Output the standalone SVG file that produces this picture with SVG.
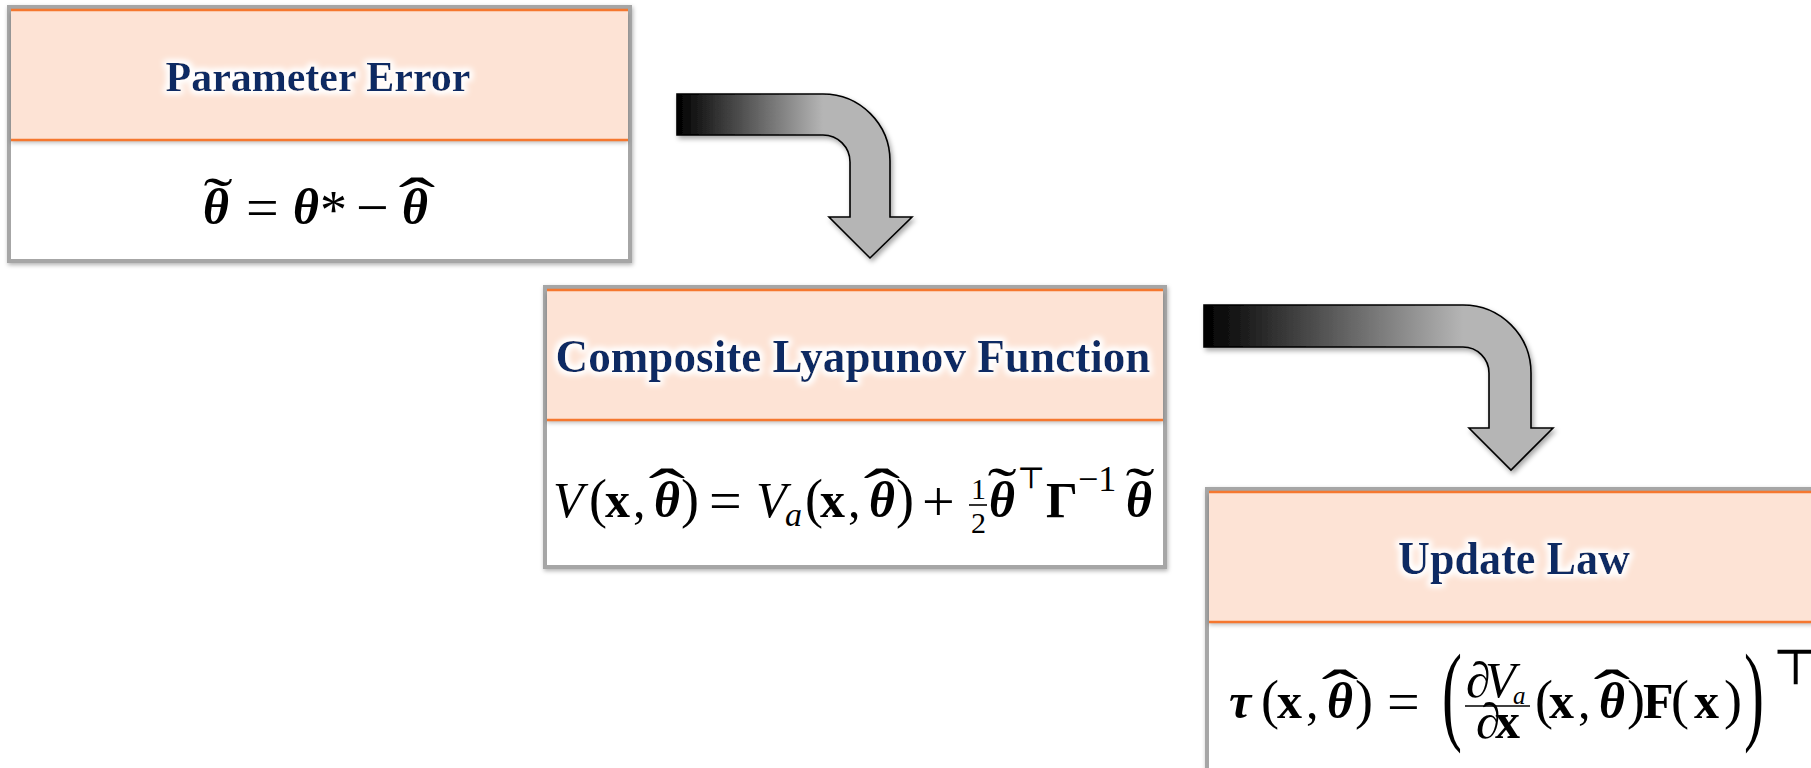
<svg xmlns="http://www.w3.org/2000/svg" width="1811" height="768" viewBox="0 0 1811 768">
<defs>
<style>
.frame{fill:#fff;stroke:#a6a6a6;stroke-width:4}
.head{fill:#fde3d5}
.oline{stroke:#f5772f;stroke-width:2.5}
.title{font-family:"Liberation Serif","DejaVu Serif",serif;font-weight:bold;fill:#0d2a63;text-anchor:middle}
.m{font-family:"Liberation Serif","DejaVu Serif",serif;font-size:50px;fill:#000}
.bi{font-weight:bold;font-style:italic}
.b{font-weight:bold}
.i{font-style:italic}
.op{font-size:58px}
.acc{font-family:"Liberation Serif","DejaVu Serif",serif;font-size:46px;text-anchor:middle;fill:#000}
.arrow{stroke:#000;stroke-width:1.6;stroke-linejoin:miter}
.bar{stroke:#000;stroke-width:1.6}
</style>
<filter id="glow" x="-10%" y="-40%" width="120%" height="180%">
<feMorphology in="SourceAlpha" operator="dilate" radius="2" result="d"/>
<feGaussianBlur in="d" stdDeviation="3" result="b"/>
<feFlood flood-color="#ffffff"/>
<feComposite in2="b" operator="in" result="g"/>
<feMerge><feMergeNode in="g"/><feMergeNode in="g"/><feMergeNode in="SourceGraphic"/></feMerge>
</filter>
<filter id="shadow" x="-5%" y="-5%" width="115%" height="120%">
<feDropShadow dx="1" dy="2" stdDeviation="2" flood-color="#000" flood-opacity="0.3"/>
</filter>
<filter id="hshadow" x="-2%" y="-5%" width="104%" height="115%">
<feDropShadow dx="0" dy="3" stdDeviation="2" flood-color="#000" flood-opacity="0.25"/>
</filter>
<filter id="ashadow" x="-10%" y="-10%" width="125%" height="130%">
<feDropShadow dx="2" dy="3" stdDeviation="2.5" flood-color="#000" flood-opacity="0.35"/>
</filter>
<linearGradient id="g1" gradientUnits="userSpaceOnUse" x1="677" y1="0" x2="823" y2="0">
<stop offset="0" stop-color="#000"/>
<stop offset="1" stop-color="#b5b5b5"/>
</linearGradient>
<linearGradient id="g2" gradientUnits="userSpaceOnUse" x1="1204" y1="0" x2="1463" y2="0">
<stop offset="0" stop-color="#000"/>
<stop offset="1" stop-color="#b5b5b5"/>
</linearGradient>
</defs>
<rect x="0" y="0" width="1811" height="768" fill="#fff"/>

<g id="connectors">
<path class="arrow" fill="url(#g1)" filter="url(#ashadow)" d="M677,94 L823,94 A67,67 0 0 1 890,161 L890,217 L912,217 L870,258 L829,217 L850,217 L850,162 A27,27 0 0 0 823,135 L677,135 Z"/>
<path class="arrow" fill="url(#g2)" filter="url(#ashadow)" d="M1204,305 L1463,305 A68,68 0 0 1 1531,373 L1531,428 L1553,428 L1511,470 L1469,428 L1489,428 L1489,373 A26,26 0 0 0 1463,347 L1204,347 Z"/>
</g>

<g id="node-parameter-error">
<rect class="frame" x="9" y="7" width="621" height="254" filter="url(#shadow)"/>
<rect class="head" x="11" y="10" width="617" height="130" filter="url(#hshadow)"/>
<line class="oline" x1="11" y1="10" x2="628" y2="10"/>
<line class="oline" x1="11" y1="140" x2="628" y2="140"/>
<text class="title" x="318" y="91" font-size="43" textLength="305" lengthAdjust="spacingAndGlyphs" filter="url(#glow)">Parameter Error</text>
<text class="m" y="224"><tspan x="203" class="bi">θ</tspan><tspan x="246" y="227" class="op">=</tspan><tspan x="293" y="224" class="bi">θ</tspan><tspan x="320" y="228" font-size="54">*</tspan><tspan x="356" y="227" class="op">−</tspan><tspan x="402" y="224" class="bi">θ</tspan></text>
<text class="acc" transform="translate(218,218) scale(1.9,1.3)">˜</text>
<text class="acc" transform="translate(417,222) scale(2.4,1.4)">ˆ</text>
</g>

<g id="node-composite-lyapunov">
<rect class="frame" x="545" y="287" width="620" height="280" filter="url(#shadow)"/>
<rect class="head" x="547" y="290" width="616" height="130" filter="url(#hshadow)"/>
<line class="oline" x1="547" y1="290" x2="1163" y2="290"/>
<line class="oline" x1="547" y1="420" x2="1163" y2="420"/>
<text class="title" x="853" y="372" font-size="47" textLength="595" lengthAdjust="spacingAndGlyphs" filter="url(#glow)">Composite Lyapunov Function</text>
<text class="m" y="517"><tspan x="553" class="i">V</tspan><tspan x="589" font-size="54">(</tspan><tspan x="605" class="b">x</tspan><tspan x="633">,</tspan><tspan x="654" class="bi">θ</tspan><tspan x="681" font-size="54">)</tspan><tspan x="709" y="520" class="op">=</tspan><tspan x="756" y="517" class="i">V</tspan><tspan x="785" y="526" font-size="34" class="i">a</tspan><tspan x="805" y="517" font-size="54">(</tspan><tspan x="820" class="b">x</tspan><tspan x="848">,</tspan><tspan x="869" class="bi">θ</tspan><tspan x="896" font-size="54">)</tspan><tspan x="922" y="521" class="op">+</tspan><tspan x="971" y="499" font-size="30">1</tspan><tspan x="971" y="533" font-size="30">2</tspan><tspan x="989" y="517" class="bi">θ</tspan><tspan x="1017" y="488" font-size="30" font-family="DejaVu Serif">⊤</tspan><tspan x="1046" y="517" class="b">Γ</tspan><tspan x="1078" y="491" font-size="36">−1</tspan><tspan x="1126" y="517" class="bi">θ</tspan></text>
<line class="bar" x1="969" y1="505" x2="987" y2="505"/>
<text class="acc" transform="translate(667,513) scale(2.4,1.4)">ˆ</text>
<text class="acc" transform="translate(882,513) scale(2.4,1.4)">ˆ</text>
<text class="acc" transform="translate(1002,508) scale(1.9,1.3)">˜</text>
<text class="acc" transform="translate(1140,508) scale(1.9,1.3)">˜</text>
</g>

<g id="node-update-law">
<rect class="frame" x="1207" y="489" width="640" height="320" filter="url(#shadow)"/>
<rect class="head" x="1209" y="492" width="636" height="130" filter="url(#hshadow)"/>
<line class="oline" x1="1209" y1="492" x2="1845" y2="492"/>
<line class="oline" x1="1209" y1="622" x2="1845" y2="622"/>
<text class="title" x="1514" y="574" font-size="46" textLength="232" lengthAdjust="spacingAndGlyphs" filter="url(#glow)">Update Law</text>
<text class="m" y="718"><tspan x="1229" class="bi">τ</tspan><tspan x="1261" font-size="54">(</tspan><tspan x="1277" class="b">x</tspan><tspan x="1306">,</tspan><tspan x="1327" class="bi">θ</tspan><tspan x="1355" font-size="54">)</tspan><tspan x="1387" y="721" class="op">=</tspan><tspan x="1535" y="718" font-size="54">(</tspan><tspan x="1549" class="b">x</tspan><tspan x="1578">,</tspan><tspan x="1599" class="bi">θ</tspan><tspan x="1627" font-size="54">)</tspan><tspan x="1643" class="b">F</tspan><tspan x="1671" font-size="54">(</tspan><tspan x="1694" class="b">x</tspan><tspan x="1724" font-size="54">)</tspan></text>
<text class="m" y="697" font-size="34"><tspan x="1466">∂</tspan><tspan x="1485" class="i">V</tspan><tspan x="1513" y="704" font-size="25" class="i">a</tspan></text>
<line class="bar" x1="1465" y1="706" x2="1530" y2="706"/>
<text class="m" y="738" font-size="34"><tspan x="1476">∂</tspan><tspan x="1495" class="b">x</tspan></text>
<text class="m" font-size="46" transform="translate(1442,730) scale(1.2,2.2)">(</text>
<text class="m" font-size="46" transform="translate(1744,730) scale(1.2,2.2)">)</text>
<text class="m" x="1772" y="684" font-size="30" font-family="DejaVu Serif">⊤</text>
<text class="acc" transform="translate(1340,714) scale(2.4,1.4)">ˆ</text>
<text class="acc" transform="translate(1612,714) scale(2.4,1.4)">ˆ</text>
</g>
</svg>
